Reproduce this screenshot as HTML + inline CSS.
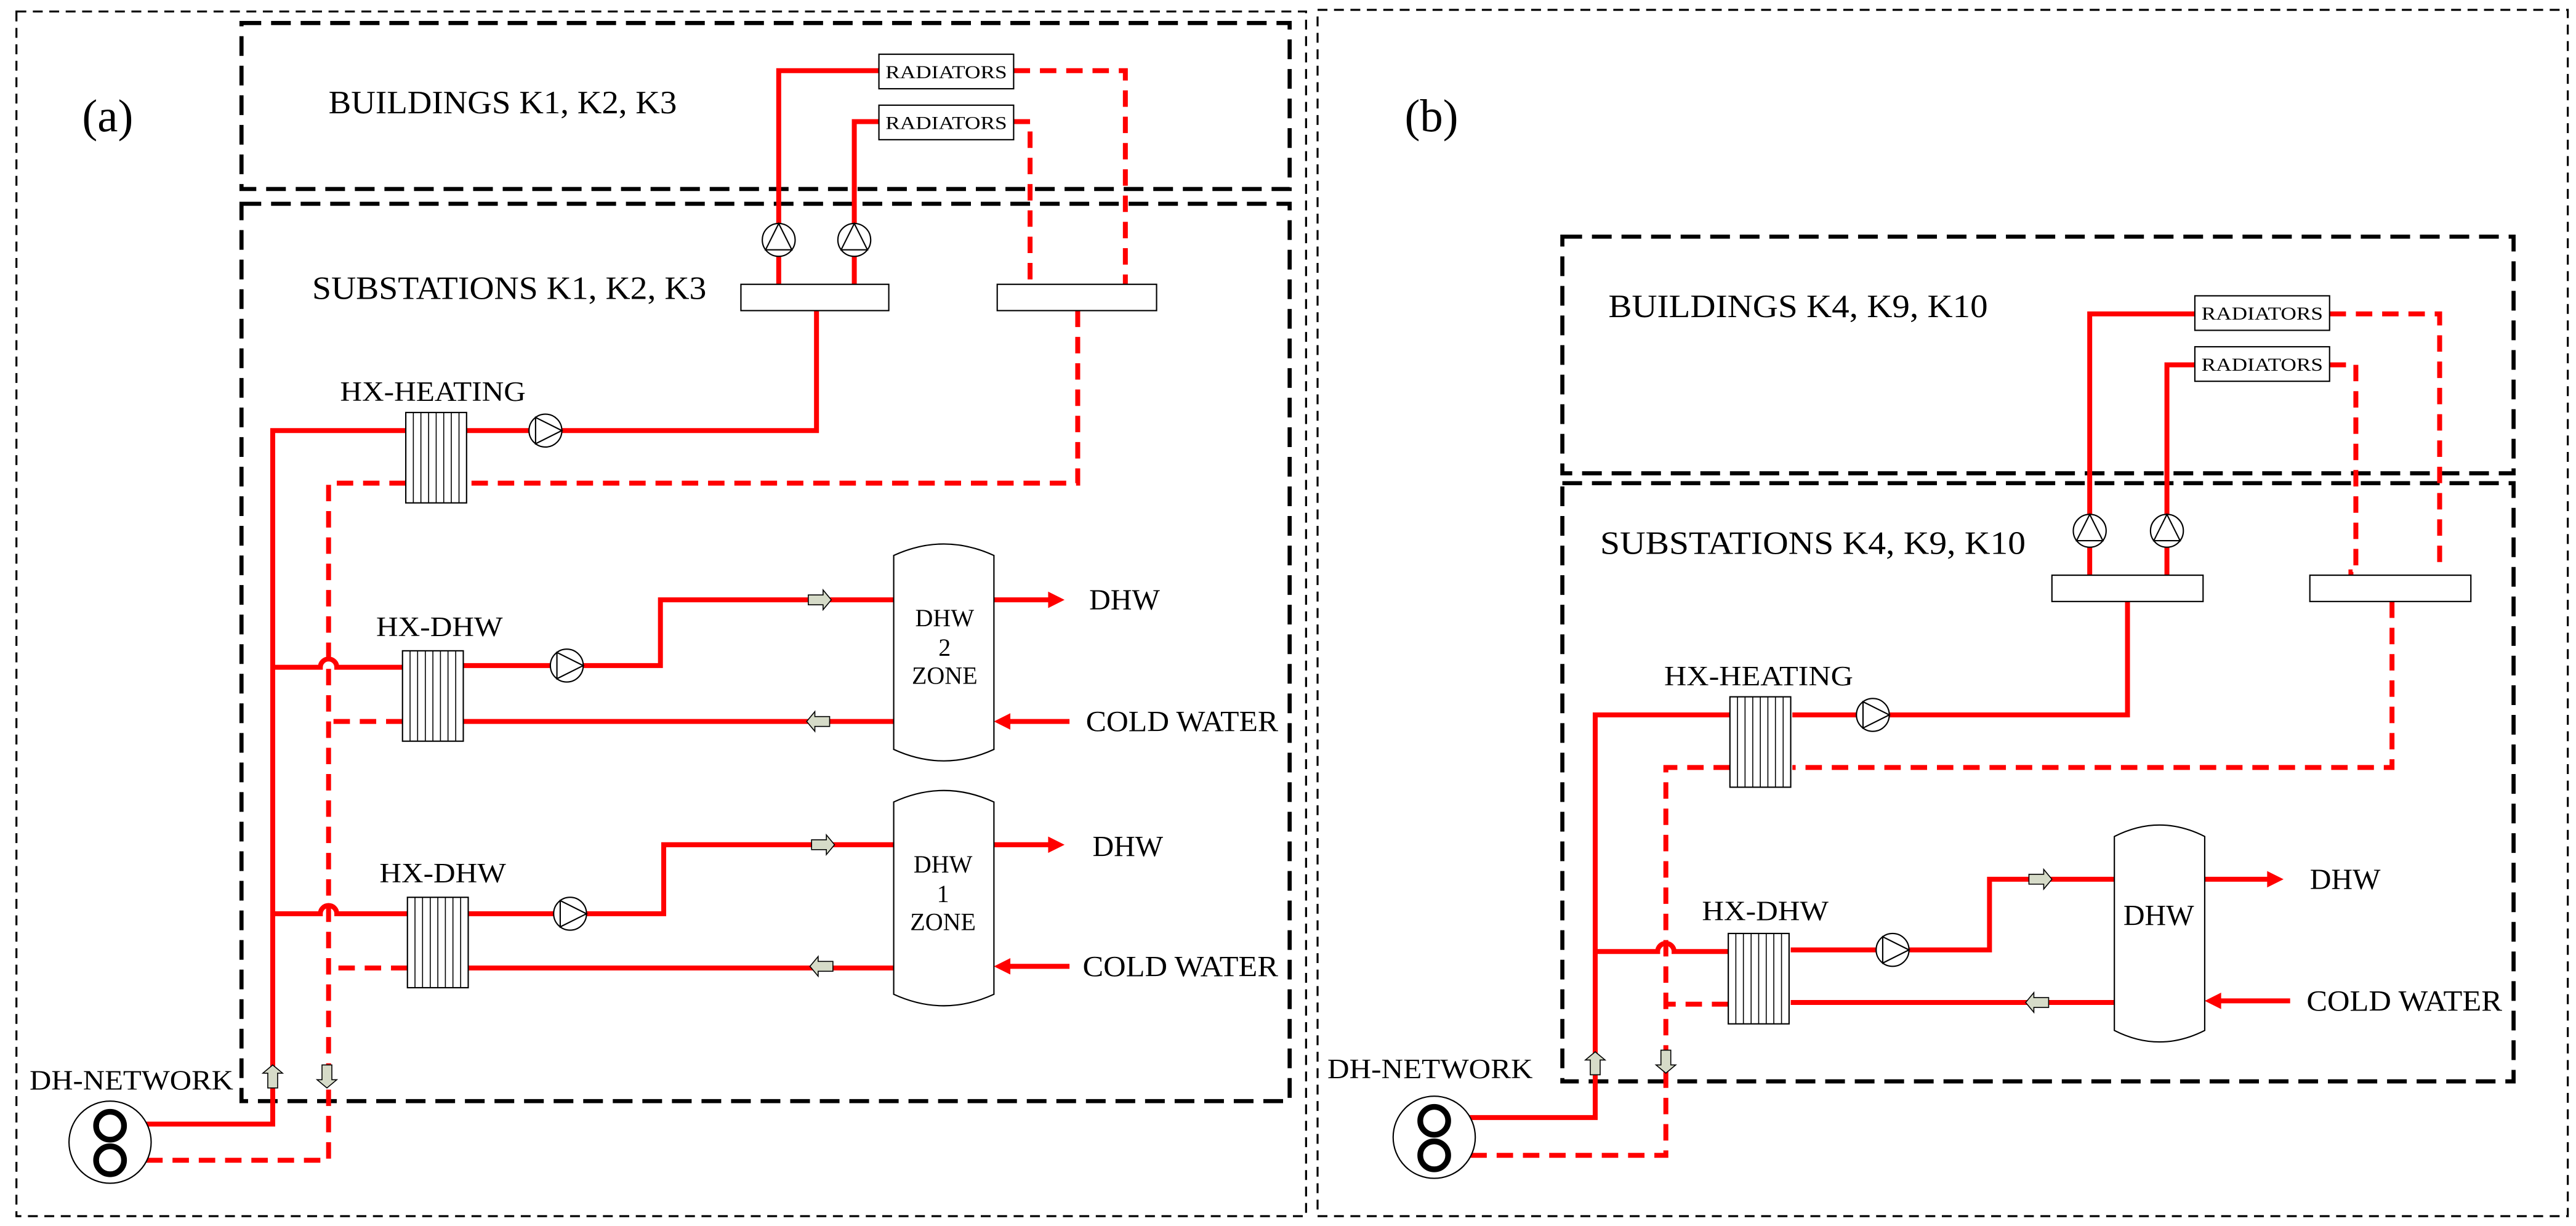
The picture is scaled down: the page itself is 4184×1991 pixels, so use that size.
<!DOCTYPE html>
<html><head><meta charset="utf-8"><style>
html,body{margin:0;padding:0;background:#fff}
svg{display:block}
text{font-family:"Liberation Serif",serif;fill:#000}
</style></head><body>
<svg width="4184" height="1991" viewBox="0 0 1568 746" preserveAspectRatio="none" xmlns="http://www.w3.org/2000/svg">
<defs>
<g id="pr"><circle r="10" fill="#fff" stroke="#000" stroke-width="0.8"/><path d="M-6,-8 L10,0 L-6,8 Z" fill="none" stroke="#000" stroke-width="0.8"/></g>
<g id="pu"><circle r="10" fill="#fff" stroke="#000" stroke-width="0.8"/><path d="M-8,6 L0,-10 L8,6 Z" fill="none" stroke="#000" stroke-width="0.8"/></g>
<g id="hx"><rect x="0" y="0" width="37" height="55" fill="#fff" stroke="#000" stroke-width="0.8"/>
<path d="M4.6,0V55M9.2,0V55M13.9,0V55M18.5,0V55M23.1,0V55M27.7,0V55M32.4,0V55" stroke="#000" stroke-width="0.6"/></g>
<path id="ar" d="M-7,-3 H2 V-6 L7,0 L2,6 V3 H-7 Z" fill="#d6dbc8" stroke="#000" stroke-width="0.6"/>
<path id="al" d="M7,-3 H-2 V-6 L-7,0 L-2,6 V3 H7 Z" fill="#d6dbc8" stroke="#000" stroke-width="0.6"/>
<path id="au" d="M-3,7 V-2 H-6 L0,-7 L6,-2 H3 V7 Z" fill="#d6dbc8" stroke="#000" stroke-width="0.6"/>
<path id="ad" d="M-3,-7 V2 H-6 L0,7 L6,2 H3 V-7 Z" fill="#d6dbc8" stroke="#000" stroke-width="0.6"/>
<g id="dh"><circle r="25" fill="#fff" stroke="#000" stroke-width="0.8"/><circle cx="0" cy="-10" r="8.5" fill="none" stroke="#000" stroke-width="3.5"/><circle cx="0" cy="11" r="8.5" fill="none" stroke="#000" stroke-width="3.5"/></g>
</defs>

<g fill="none" stroke="#000" stroke-width="1.2" stroke-dasharray="6,4">
<rect x="10" y="7" width="785" height="733"/>
<rect x="802" y="6" width="761" height="734"/>
</g>
<g fill="none" stroke="#000" stroke-width="2.5" stroke-dasharray="12,6">
<rect x="147" y="14" width="638" height="101"/>
<rect x="147" y="124" width="638" height="546"/>
<rect x="951" y="144" width="579" height="144"/>
<rect x="951" y="294" width="579" height="364"/>
</g>

<text x="50" y="80" font-size="28">(a)</text>
<text x="855" y="80" font-size="28">(b)</text>
<text x="200" y="69" font-size="20" textLength="212" lengthAdjust="spacingAndGlyphs">BUILDINGS K1, K2, K3</text>
<text x="190" y="182" font-size="20" textLength="240" lengthAdjust="spacingAndGlyphs">SUBSTATIONS K1, K2, K3</text>
<text x="979" y="193" font-size="20" textLength="231" lengthAdjust="spacingAndGlyphs">BUILDINGS  K4, K9, K10</text>
<text x="974" y="337" font-size="20" textLength="259" lengthAdjust="spacingAndGlyphs">SUBSTATIONS  K4, K9, K10</text>

<g fill="none" stroke="#f00" stroke-width="3">
<path d="M535,43 H474 V173"/>
<path d="M535,74 H520 V173"/>
<path d="M497,189 V262 H283"/>
<path d="M247,262 H166 V684 H78"/>
<path d="M166,406 H195 A5,5 0 0 1 205,406 H245"/>
<path d="M282,405 H402 V365 H544"/>
<path d="M544,439 H282"/>
<path d="M166,556 H195 A5,5 0 0 1 205,556 H248"/>
<path d="M284,556 H404 V514 H544"/>
<path d="M544,589 H284"/>
<path d="M605,365 H640"/>
<path d="M651,439 H612"/>
<path d="M605,514 H640"/>
<path d="M651,588 H612"/>
</g>
<g fill="#f00">
<path d="M648,365 L638,360 L638,370 Z"/>
<path d="M605,439 L615,434 L615,444 Z"/>
<path d="M648,514 L638,509 L638,519 Z"/>
<path d="M605,588 L615,583 L615,593 Z"/>
</g>
<g fill="none" stroke="#f00" stroke-width="3" stroke-dasharray="10,6">
<path d="M617,43 H685 V173"/>
<path d="M617,74 H627 V173"/>
<path d="M656,189 V294 H283"/>
<path d="M247,294 H200 V706 H78"/>
<path d="M245,439 H200"/>
<path d="M248,589 H200"/>
</g>
<g fill="#fff" stroke="#000" stroke-width="0.8">
<rect x="535" y="33" width="82" height="21"/>
<rect x="535" y="64" width="82" height="21"/>
<rect x="451" y="173" width="90" height="16"/>
<rect x="607" y="173" width="97" height="16"/>
<path d="M544,338 Q574.5,324 605,338 V456 Q574.5,470 544,456 Z"/>
<path d="M544,488 Q574.5,474 605,488 V605 Q574.5,619 544,605 Z"/>
</g>
<text x="576" y="47.5" font-size="11" text-anchor="middle" textLength="74" lengthAdjust="spacingAndGlyphs">RADIATORS</text>
<text x="576" y="78.5" font-size="11" text-anchor="middle" textLength="74" lengthAdjust="spacingAndGlyphs">RADIATORS</text>
<use href="#pu" x="474" y="146"/><use href="#pu" x="520" y="146"/>
<use href="#hx" x="247" y="251"/><use href="#hx" x="245" y="396"/><use href="#hx" x="248" y="546"/>
<use href="#pr" x="332" y="262"/><use href="#pr" x="345" y="405"/><use href="#pr" x="347" y="556"/>
<use href="#ar" x="499" y="365"/><use href="#al" x="498" y="439"/>
<use href="#ar" x="501" y="514"/><use href="#al" x="500" y="588"/>
<use href="#au" x="166" y="655"/><use href="#ad" x="199" y="655"/>
<use href="#dh" x="67" y="695"/>
<text x="207" y="244" font-size="17" textLength="113" lengthAdjust="spacingAndGlyphs">HX-HEATING</text>
<text x="229" y="387" font-size="17" textLength="77" lengthAdjust="spacingAndGlyphs">HX-DHW</text>
<text x="231" y="537" font-size="17" textLength="77" lengthAdjust="spacingAndGlyphs">HX-DHW</text>
<g font-size="15" text-anchor="middle">
<text x="575" y="381">DHW</text><text x="575" y="399">2</text><text x="575" y="416">ZONE</text>
<text x="574" y="531">DHW</text><text x="574" y="549">1</text><text x="574" y="566">ZONE</text>
</g>
<g font-size="18">
<text x="663" y="371">DHW</text><text x="661" y="445" textLength="117" lengthAdjust="spacingAndGlyphs">COLD WATER</text>
<text x="665" y="521">DHW</text><text x="659" y="594" textLength="119" lengthAdjust="spacingAndGlyphs">COLD WATER</text>
<text x="18" y="663" font-size="17" textLength="124" lengthAdjust="spacingAndGlyphs">DH-NETWORK</text>
</g>

<g fill="none" stroke="#f00" stroke-width="3">
<path d="M1336,191 H1272 V350"/>
<path d="M1336,222 H1319 V350"/>
<path d="M1295,366 V435 H1091"/>
<path d="M1053,435 H971 V680 H884"/>
<path d="M971,579 H1009 A5,5 0 0 1 1019,579 H1052"/>
<path d="M1090,578 H1211 V535 H1287"/>
<path d="M1287,610 H1090"/>
<path d="M1342,535 H1382"/>
<path d="M1394,609 H1349"/>
</g>
<g fill="#f00">
<path d="M1390,535 L1380,530 L1380,540 Z"/>
<path d="M1342,609 L1352,604 L1352,614 Z"/>
</g>
<g fill="none" stroke="#f00" stroke-width="3" stroke-dasharray="10,6">
<path d="M1418,191 H1485 V342"/>
<path d="M1418,222 H1434 V348 H1431 V350"/>
<path d="M1456,366 V467 H1091"/>
<path d="M1053,467 H1014 V703 H884"/>
<path d="M1052,611 H1014"/>
</g>
<g fill="#fff" stroke="#000" stroke-width="0.8">
<rect x="1336" y="180" width="82" height="21"/>
<rect x="1336" y="211" width="82" height="21"/>
<rect x="1249" y="350" width="92" height="16"/>
<rect x="1406" y="350" width="98" height="16"/>
<path d="M1287,509 Q1314.5,495 1342,509 V627 Q1314.5,641 1287,627 Z"/>
</g>
<text x="1377" y="194.5" font-size="11" text-anchor="middle" textLength="74" lengthAdjust="spacingAndGlyphs">RADIATORS</text>
<text x="1377" y="225.5" font-size="11" text-anchor="middle" textLength="74" lengthAdjust="spacingAndGlyphs">RADIATORS</text>
<use href="#pu" x="1272" y="323"/><use href="#pu" x="1319" y="323"/>
<use href="#hx" x="1053" y="424"/><use href="#hx" x="1052" y="568"/>
<use href="#pr" x="1140" y="435"/><use href="#pr" x="1152" y="578"/>
<use href="#ar" x="1242" y="535"/><use href="#al" x="1240" y="610"/>
<use href="#au" x="971" y="647"/><use href="#ad" x="1014" y="646"/>
<use href="#dh" x="873" y="692"/>
<text x="1013" y="417" font-size="17" textLength="115" lengthAdjust="spacingAndGlyphs">HX-HEATING</text>
<text x="1036" y="560" font-size="17" textLength="77" lengthAdjust="spacingAndGlyphs">HX-DHW</text>
<text x="1314" y="563" font-size="18" text-anchor="middle">DHW</text>
<g font-size="18">
<text x="1406" y="541">DHW</text><text x="1404" y="615" textLength="119" lengthAdjust="spacingAndGlyphs">COLD WATER</text>
<text x="808" y="656" font-size="17" textLength="125" lengthAdjust="spacingAndGlyphs">DH-NETWORK</text>
</g>
</svg>
</body></html>
